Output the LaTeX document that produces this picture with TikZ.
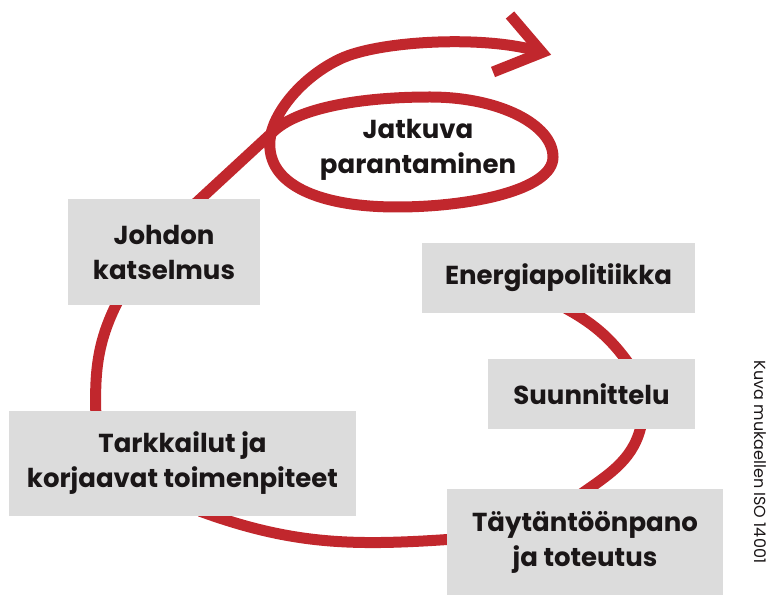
\documentclass[tikz,border=0pt]{standalone}
\usepackage{fontspec}
\setmainfont{Poppins}
\usetikzlibrary{backgrounds}
\definecolor{boxgray}{RGB}{220,220,220}
\definecolor{loopred}{RGB}{193,39,45}
\definecolor{inkblack}{RGB}{26,22,23}
\begin{document}
\begin{tikzpicture}[x=1pt,y=1pt,
	box/.style={fill=boxgray,inner sep=0pt,align=center,text=inkblack,font=\bfseries\fontsize{26}{35}\selectfont},
	redline/.style={draw=loopred,line width=11pt}]
	\useasboundingbox (0,0) rectangle (779,595);
	% boxes
	\node[box,minimum width=273pt,minimum height=70pt] (ener) at (558.5,317) {Energiapolitiikka};
	\node[box,minimum width=207pt,minimum height=70pt] (suun) at (591.5,201) {Suunnittelu};
	\node[box,minimum width=276pt,minimum height=106pt] (tayt) at (585,53) {Täytäntöönpano\\ja toteutus};
	\node[box,minimum width=347pt,minimum height=105pt] (tark) at (182.5,131.5) {Tarkkailut ja\\korjaavat toimenpiteet};
	\node[box,minimum width=192pt,minimum height=106pt] (johd) at (164,343) {Johdon\\katselmus};
	\node[align=center,text=inkblack,font=\bfseries\fontsize{26}{35}\selectfont] (jatk) at (418,445) {Jatkuva\\parantaminen};
	\node[rotate=-90,text=inkblack,font=\fontsize{16}{19}\selectfont] (note) at (760,133) {Kuva mukaellen ISO 14001};
	\coordinate (tip) at (542,542.5);
	% the loop, behind the boxes
	\begin{pgfonlayer}{background}
		\draw[redline] ([shift={(1.5,8)}]ener.south) to[out=-28,in=125] ([shift={(39.5,-8)}]suun.north);
		\draw[redline] ([shift={(50.5,8)}]suun.south) to[out=-100,in=35] ([shift={(-5,-6)}]tayt.north);
		\draw[redline] ([shift={(8,3)}]tayt.west) to[out=184,in=-20] ([shift={(17.5,5)}]tark.south);
		\draw[redline] ([shift={(-86.5,-8)}]tark.north) to[out=92,in=-118] ([shift={(-44,8)}]johd.south);
		% round jatk and off to the arrow
		\draw[redline] ([shift={(30,-6)}]johd.north) -- (275,465)
			.. controls (300,487) and (360,498) .. (430,498)
			.. controls (500,498) and (553,470) .. (553,438)
			.. controls (553,405) and (470,388) .. (397,388)
			.. controls (320,388) and (266,410) .. (270,455)
			.. controls (272,480) and (300,517) .. (340,536)
			.. controls (380,555) and (490,560) .. (tip);
		\draw[redline] (tip) ++(-32,37.5) -- (tip) -- ++(-49,-19.5);
	\end{pgfonlayer}
\end{tikzpicture}
\end{document}
